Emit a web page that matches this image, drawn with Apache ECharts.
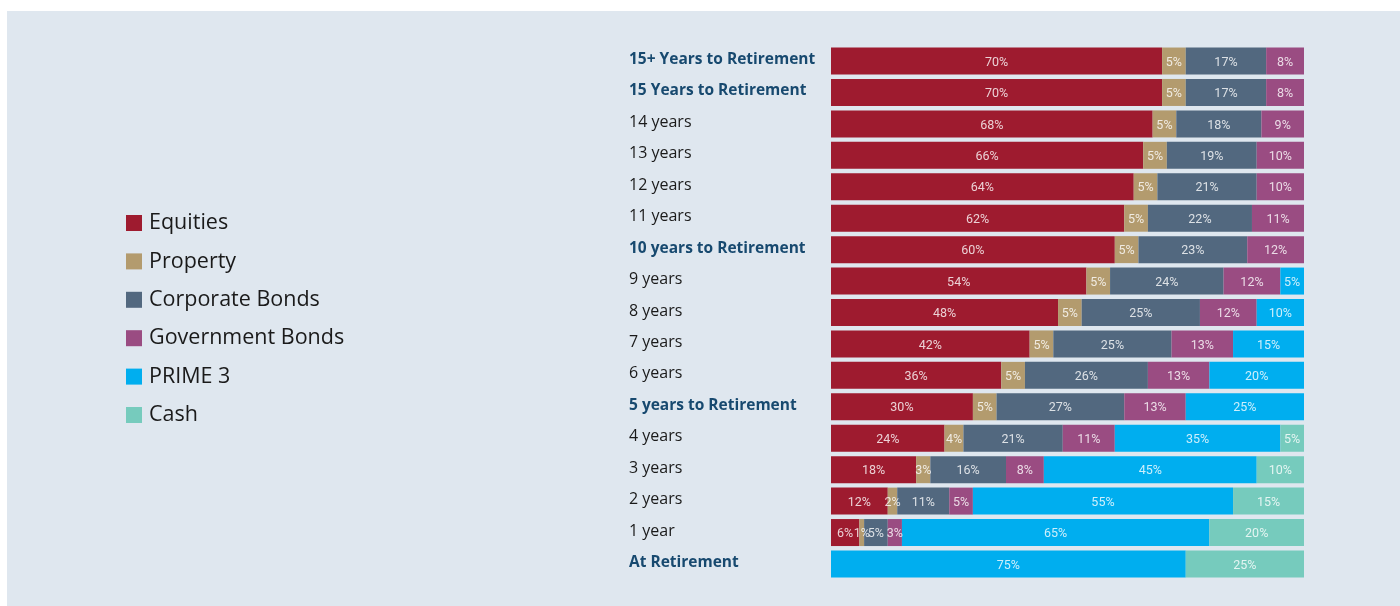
<!DOCTYPE html>
<html>
<head>
<meta charset="utf-8">
<script src="https://cdn.jsdelivr.net/npm/echarts@6/dist/echarts.min.js"></script>
<style>
html,body{margin:0;padding:0;background:#ffffff;width:1400px;height:606px;overflow:hidden;}
#wrap{position:absolute;left:7px;top:11px;width:1393px;height:595px;background:#dfe7ef;}
#chart{width:1393px;height:595px;}
</style>
</head>
<body>
<div id="wrap"><div id="chart"></div></div>
<script>
const categories = ['15+ Years to Retirement','15 Years to Retirement','14 years','13 years','12 years','11 years','10 years to Retirement','9 years','8 years','7 years','6 years','5 years to Retirement','4 years','3 years','2 years','1 year','At Retirement'];
const boldCategories = ['15+ Years to Retirement','15 Years to Retirement','10 years to Retirement','5 years to Retirement','At Retirement'];
const equities   = [70,70,68,66,64,62,60,54,48,42,36,30,24,18,12,6,0];
const property   = [5,5,5,5,5,5,5,5,5,5,5,5,4,3,2,1,0];
const corporate  = [17,17,18,19,21,22,23,24,25,25,26,27,21,16,11,5,0];
const government = [8,8,9,10,10,11,12,12,12,13,13,13,11,8,5,3,0];
const prime3     = [0,0,0,0,0,0,0,5,10,15,20,25,35,45,55,65,75];
const cash       = [0,0,0,0,0,0,0,0,0,0,0,0,5,10,15,20,25];

const seriesDefs = [
  ['Equities', equities, '#9e1b2f'],
  ['Property', property, '#b39b6e'],
  ['Corporate Bonds', corporate, '#52687f'],
  ['Government Bonds', government, '#9a4c82'],
  ['PRIME 3', prime3, '#00aeef'],
  ['Cash', cash, '#76cbbd']
];

const chart = echarts.init(document.getElementById('chart'));
chart.setOption({
  backgroundColor: 'transparent',
  animation: false,
  legend: {
    orient: 'vertical',
    left: 114,
    top: 196,
    icon: 'rect',
    itemWidth: 16,
    itemHeight: 16,
    itemGap: 16.4,
    textStyle: {fontFamily: 'Open Sans', fontSize: 21.5, color: '#1a1a1a', lineHeight: 22, padding: [0,0,0,2]},
    data: seriesDefs.map(s => s[0])
  },
  grid: {left: 824, right: 96, top: 34.3, bottom: 26.3, containLabel: false},
  xAxis: {type: 'value', min: 0, max: 100, show: false},
  yAxis: {
    type: 'category',
    inverse: true,
    data: categories,
    axisLine: {show: false},
    axisTick: {show: false},
    axisLabel: {
      align: 'left',
      margin: 202,
      formatter: v => boldCategories.includes(v) ? '{b|' + v + '}' : '{n|' + v + '}',
      rich: {
        b: {fontFamily: 'Open Sans', fontWeight: 'bold', fontSize: 15.5, color: '#17496f', padding: [0,0,3,0]},
        n: {fontFamily: 'Open Sans', fontSize: 16, color: '#1a1a1a', padding: [0,0,3,0]}
      }
    }
  },
  series: seriesDefs.map(([name, data, color]) => ({
    name: name,
    type: 'bar',
    stack: 'total',
    data: data,
    barWidth: 27,
    itemStyle: {color: color},
    label: {
      show: true,
      position: 'inside',
      offset: [0, 1.5],
      fontFamily: 'Roboto',
      fontSize: 12.5,
      color: 'rgba(255,255,255,0.8)',
      formatter: p => p.value ? p.value + '%' : ''
    }
  }))
});
</script>
</body>
</html>
